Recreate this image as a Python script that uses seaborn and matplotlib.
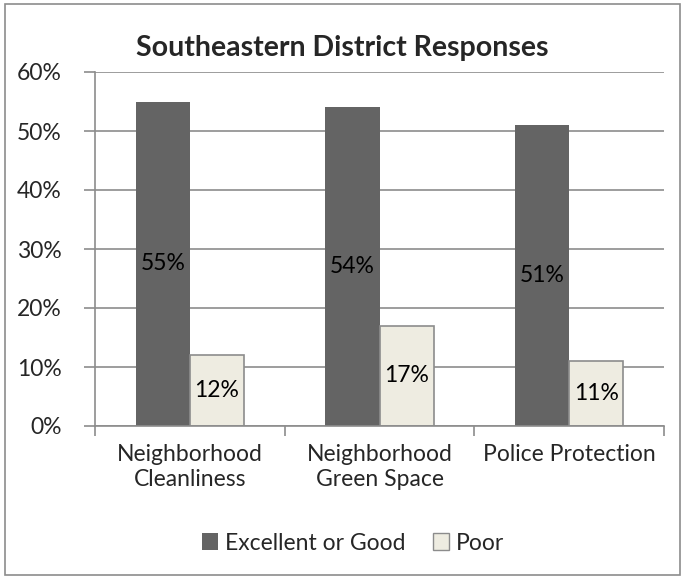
import matplotlib
matplotlib.use("Agg")
import matplotlib.pyplot as plt
import seaborn as sns
import pandas as pd
from matplotlib.patches import Rectangle, Patch

categories = ["Neighborhood\nCleanliness", "Neighborhood\nGreen Space", "Police Protection"]
series = ["Excellent or Good", "Poor"]
excellent = [55, 54, 51]
poor = [12, 17, 11]
yticks = [0, 10, 20, 30, 40, 50, 60]
ytick_labels = ["0%", "10%", "20%", "30%", "40%", "50%", "60%"]

df = pd.DataFrame({
    "Category": categories * 2,
    "Rating": [series[0]] * 3 + [series[1]] * 3,
    "Value": excellent + poor,
})

sns.set_style("white")
plt.rcParams["font.family"] = ["Lato", "DejaVu Sans"]

FS = 16.5
W, H = 684, 579
fig = plt.figure(figsize=(6.84, 5.79), dpi=100)
ax = fig.add_axes([95 / W, 1 - 426 / H, (664 - 95) / W, (426 - 72) / H])

colors = {"Excellent or Good": "#646464", "Poor": "#EEECE1"}
sns.barplot(data=df, x="Category", y="Value", hue="Rating", palette=colors,
            width=0.57, ax=ax, legend=False, saturation=1)

for i, cont in enumerate(ax.containers):
    for bar in cont:
        if i == 1:
            bar.set_edgecolor("#8C8C8C")
            bar.set_linewidth(1.2)
        else:
            bar.set_edgecolor("none")
    ax.bar_label(cont, labels=[f"{v:.0f}%" for v in cont.datavalues],
                 label_type="center", fontsize=FS, color="black")

ax.set_ylim(0, 60)
ax.set_xlim(-0.5, 2.5)
ax.set_yticks(yticks)
ax.set_yticklabels(ytick_labels, fontsize=FS)
ax.yaxis.grid(True, color="#8C8C8C", linewidth=1.2)
ax.set_axisbelow(True)
ax.set_xlabel("")
ax.set_ylabel("")
ax.set_xticks([0, 1, 2])
ax.set_xticklabels(categories, fontsize=FS, linespacing=1.25)
ax.tick_params(axis="x", length=0, pad=13)
ax.tick_params(axis="y", length=8, color="#8C8C8C", width=1.2, direction="out", left=True, pad=16)
ax.set_xticks([-0.5, 0.5, 1.5, 2.5], minor=True)
ax.tick_params(axis="x", which="minor", length=7, width=1.2, color="#8C8C8C", bottom=True, direction="out")
for s in ["top", "right"]:
    ax.spines[s].set_visible(False)
for s in ["left", "bottom"]:
    ax.spines[s].set_color("#8C8C8C")
    ax.spines[s].set_linewidth(1.2)

fig.text(0.5, 1 - 48 / H, "Southeastern District Responses", ha="center", va="center",
         fontsize=20.5, fontweight="bold")

handles = [Patch(facecolor=colors[s], edgecolor="#8C8C8C" if s == "Poor" else "none", label=s) for s in series]
fig.legend(handles=handles, loc="center", bbox_to_anchor=(353 / W, 1 - 543 / H), ncol=2,
           frameon=False, fontsize=FS, handlelength=0.7, handleheight=0.7, handletextpad=0.3,
           columnspacing=1.2)

fig.patches.append(Rectangle((4.5 / W, 4 / H), 675 / W, 571 / H, transform=fig.transFigure,
                             fill=False, edgecolor="#8C8C8C", linewidth=1.2))

fig.savefig("out.png", dpi=100)
